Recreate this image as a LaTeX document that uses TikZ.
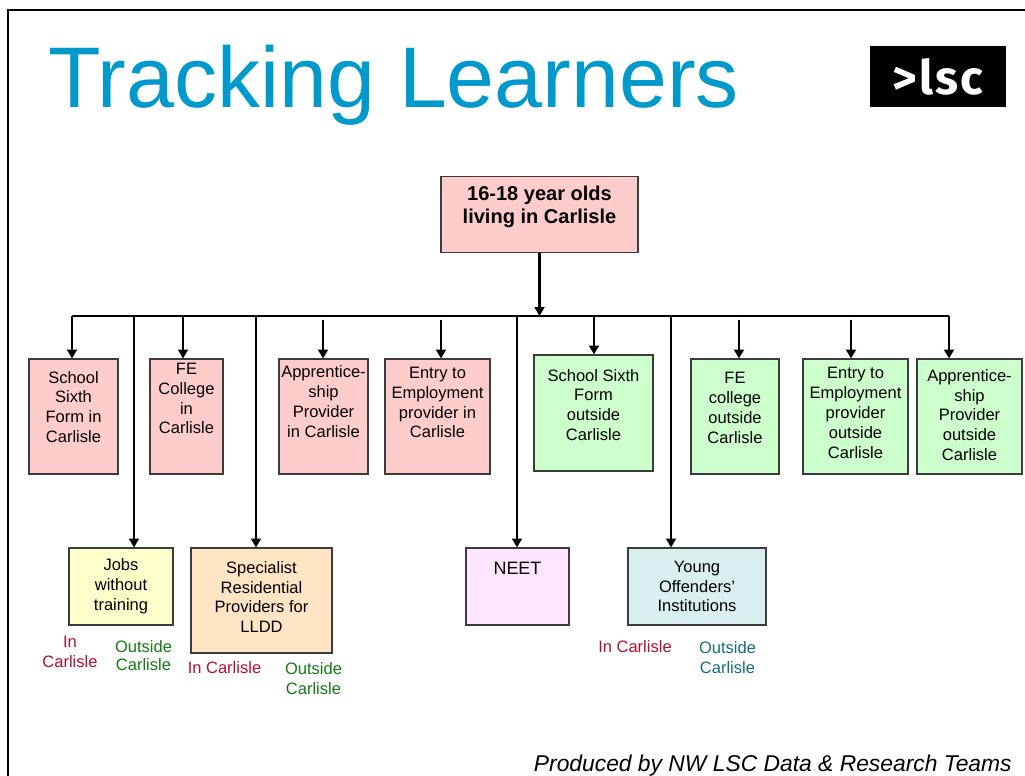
\documentclass[tikz,border=0pt]{standalone}
\usepackage{fontspec}
\setmainfont{Liberation Sans}
\newfontfamily\logofont{Fira Sans}[LetterSpace=4]
\usetikzlibrary{arrows.meta}

\definecolor{titleblue}{RGB}{0,153,204}
\definecolor{boxline}{RGB}{60,60,60}
\definecolor{pinkfill}{RGB}{255,204,204}
\definecolor{greenfill}{RGB}{204,255,204}
\definecolor{yellowfill}{RGB}{255,255,204}
\definecolor{peachfill}{RGB}{255,229,196}
\definecolor{neetfill}{RGB}{255,229,255}
\definecolor{youngfill}{RGB}{218,240,240}
\definecolor{incol}{RGB}{176,16,56}
\definecolor{outgreen}{RGB}{20,120,20}
\definecolor{outteal}{RGB}{20,110,120}

\tikzset{
    box/.style={draw=boxline, line width=0.6pt, inner sep=0pt},
    boxtext/.style={align=center, inner sep=0pt, font=\fontsize{9.4}{11.3}\selectfont},
    where/.style={align=center, inner sep=0pt, font=\fontsize{9.4}{11.3}\selectfont},
    drop/.style={->, line width=1.6pt}
}

\begin{document}
\begin{tikzpicture}[x=0.02cm, y=-0.02cm, >={Triangle[length=5pt, width=5.5pt]}]
    \useasboundingbox (0,0) rectangle (1025,776);

    % --- Frame & heading ---
    \draw[line width=1pt] (8,776) -- (8,10) -- (1025,10);
    \node[anchor=base west, inner sep=0pt, text=titleblue, font=\fontsize{49}{58}\selectfont] (title) at (48,108) {Tracking Learners};
    \node[fill=black, minimum width=2.74cm, minimum height=1.22cm, text=white, font=\logofont\bfseries\fontsize{27}{30}\selectfont] (logo) at (938,77) {>lsc};

    % --- Top box ---
    \node[box, fill=pinkfill, minimum width=3.94cm, minimum height=1.52cm,
        label={[boxtext, yshift=0.16cm, font=\fontsize{11.4}{13.1}\selectfont\bfseries]center:{16-18 year olds\\living in Carlisle}}] (root) at (539.5,214.5) {};

    % --- In Carlisle (pink) ---
    \node[box, fill=pinkfill, minimum width=1.78cm, minimum height=2.3cm,
        label={[boxtext, yshift=0.19cm]center:{School\\Sixth\\Form in\\Carlisle}}] (sixin) at (73.5,416.5) {};
    \node[box, fill=pinkfill, minimum width=1.46cm, minimum height=2.3cm,
        label={[boxtext, yshift=0.36cm]center:{FE\\College\\in\\Carlisle}}] (fein) at (186.5,416.5) {};
    \node[box, fill=pinkfill, minimum width=1.78cm, minimum height=2.3cm,
        label={[boxtext, yshift=0.30cm]center:{Apprentice-\\ship\\Provider\\in Carlisle}}] (appin) at (323.5,416.5) {};
    \node[box, fill=pinkfill, minimum width=2.1cm, minimum height=2.3cm,
        label={[boxtext, yshift=0.28cm]center:{Entry to\\Employment\\provider in\\Carlisle}}] (e2ein) at (437.5,416.5) {};

    % --- Outside Carlisle (green) ---
    \node[box, fill=greenfill, minimum width=2.38cm, minimum height=2.32cm,
        label={[boxtext, yshift=0.16cm]center:{School Sixth\\Form\\outside\\Carlisle}}] (sixout) at (593.5,413) {};
    \node[box, fill=greenfill, minimum width=1.76cm, minimum height=2.3cm,
        label={[boxtext, yshift=0.17cm]center:{FE\\college\\outside\\Carlisle}}] (feout) at (735,416.5) {};
    \node[box, fill=greenfill, minimum width=2.1cm, minimum height=2.3cm,
        label={[boxtext, yshift=0.07cm]center:{Entry to\\Employment\\provider\\outside\\Carlisle}}] (e2eout) at (855.5,416.5) {};
    \node[box, fill=greenfill, minimum width=2.1cm, minimum height=2.3cm,
        label={[boxtext, yshift=0.03cm]center:{Apprentice-\\ship\\Provider\\outside\\Carlisle}}] (appout) at (969.5,416.5) {};

    % --- Lower row ---
    \node[box, fill=yellowfill, minimum width=2.08cm, minimum height=1.54cm,
        label={[boxtext]center:{Jobs\\without\\training}}] (jobs) at (121,586.5) {};
    \node[box, fill=peachfill, minimum width=2.82cm, minimum height=2.1cm,
        label={[boxtext, yshift=0.07cm]center:{Specialist\\Residential\\Providers for\\LLDD}}] (spec) at (261.5,600.5) {};
    \node[box, fill=neetfill, minimum width=2.06cm, minimum height=1.54cm,
        label={[boxtext, yshift=0.37cm, font=\fontsize{10.2}{12}\selectfont]center:{NEET}}] (neet) at (517.5,586.5) {};
    \node[box, fill=youngfill, minimum width=2.76cm, minimum height=1.54cm,
        label={[boxtext]center:{Young\\Offenders'\\Institutions}}] (young) at (697,586.5) {};

    % In / Outside labels
    \node[where, text=incol] (jobsin) at (70,652) {In\\Carlisle};
    \node[where, text=outgreen, font=\fontsize{9.4}{10.3}\selectfont] (jobsout) at (143.5,656) {Outside\\Carlisle};
    \node[where, text=incol] (specin) at (224.5,668) {In Carlisle};
    \node[where, text=outgreen] (specout) at (313.5,678.5) {Outside\\Carlisle};
    \node[where, text=incol] (youngin) at (635,647) {In Carlisle};
    \node[where, text=outteal] (youngout) at (727.5,657.5) {Outside\\Carlisle};

    % --- Connectors ---
    \coordinate (busl) at (72,316);
    \coordinate (busr) at (949,316);
    \draw[line width=0.8pt] (busl) -- (busr);
    \draw[drop] (root.south) -- (root.south |- busl);
    \foreach \nm/\xx/\ys in {sixin/72/316, jobs/134/316, fein/183/316, spec/256/316,
        appin/323/320, e2ein/441/320, neet/517/316, sixout/594/316, young/671/316,
        feout/739/320, e2eout/851/320, appout/949/316} {
        \coordinate (b\nm) at (\xx,\ys);
        \draw[drop] (b\nm) -- (b\nm |- \nm.north);
    }

    % Footer
    \node[anchor=base east, inner sep=0pt, font=\fontsize{13}{15}\selectfont\itshape] (credit) at (1012,771) {Produced by NW LSC Data \& Research Teams};
\end{tikzpicture}
\end{document}
